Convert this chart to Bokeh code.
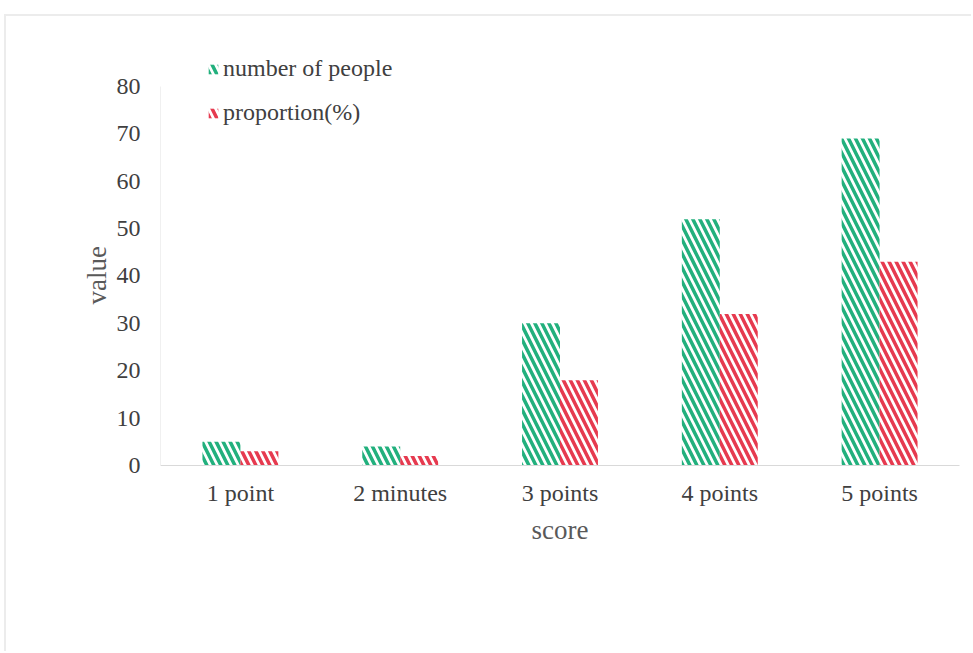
from bokeh.plotting import figure
from bokeh.models import ColumnDataSource, FactorRange, Legend, LegendItem, Title
from bokeh.transform import dodge
from bokeh.embed import file_html
from bokeh.resources import INLINE

categories = ["1 point", "2 minutes", "3 points", "4 points", "5 points"]
people = [5, 4, 30, 52, 69]
proportion = [3, 2, 18, 32, 43]
y_ticks = [0, 10, 20, 30, 40, 50, 60, 70, 80]

src = ColumnDataSource(dict(cat=categories, people=people, proportion=proportion))

FONT = "Liberation Serif"
# frame spans a bit above 80 so the legend can sit there; the axis itself stops at 80
p = figure(x_range=FactorRange(*categories, range_padding=0), y_range=(0, 88.865),
           width=967, height=637, output_backend="svg", toolbar_location=None,
           min_border_left=154, min_border_right=14, min_border_top=28, min_border_bottom=188)
p.margin = (14, 0, 0, 4)
p.stylesheets = [":host { border-left: 2px solid #ececec; border-top: 2px solid #ececec; }"]
p.outline_line_color = None
p.xgrid.grid_line_color = None
p.ygrid.grid_line_color = None

g = p.vbar(x=dodge("cat", -0.11875, range=p.x_range), top="people", width=0.2375, source=src,
           fill_color="white", fill_alpha=0, line_color=None, hatch_pattern="\\",
           hatch_color="#22b07d", hatch_scale=14, hatch_weight=3.5)
r = p.vbar(x=dodge("cat", 0.11875, range=p.x_range), top="proportion", width=0.2375, source=src,
           fill_color="white", fill_alpha=0, line_color=None, hatch_pattern="\\",
           hatch_color="#e63a4f", hatch_scale=14, hatch_weight=3.5)

p.yaxis.ticker = y_ticks
p.yaxis.bounds = (0, 80)
for ax in (p.xaxis[0], p.yaxis[0]):
    ax.major_tick_line_color = None
    ax.minor_tick_line_color = None
    ax.axis_line_color = "#d9d9d9"
    ax.major_label_text_font = FONT
    ax.major_label_text_font_size = "24px"
    ax.major_label_text_color = "#404040"
    ax.axis_label_text_font = FONT
    ax.axis_label_text_font_size = "27px"
    ax.axis_label_text_color = "#595959"
    ax.axis_label_text_font_style = "normal"
p.yaxis.axis_line_color = "#f0f0f0"
p.xaxis.axis_label = "score"
p.xaxis.major_label_standoff = 8
p.xaxis.axis_label_standoff = 6
p.yaxis.major_label_standoff = 14

ytitle = Title(text="value", align="left", offset=161, standoff=4,
               text_font=FONT, text_font_size="27px", text_color="#595959",
               text_font_style="normal")
p.add_layout(ytitle, "left")

legend = Legend(items=[LegendItem(label="number of people", renderers=[g]),
                       LegendItem(label="proportion(%)", renderers=[r])],
                location=(47, 339), orientation="vertical",
                label_text_font=FONT, label_text_font_size="24px", label_text_color="#404040",
                glyph_width=12, glyph_height=12, label_height=24, label_standoff=4, spacing=17,
                padding=0, margin=0, border_line_color=None, background_fill_alpha=0)
p.add_layout(legend, "center")

open("out.html", "w").write(file_html(p, INLINE))
